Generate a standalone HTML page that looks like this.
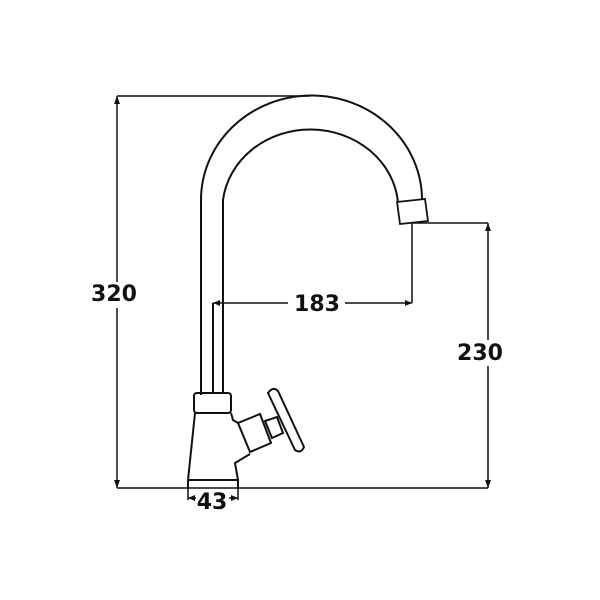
<!DOCTYPE html>
<html><head><style>body{margin:0;background:#fff}svg{display:block}</style></head>
<body>
<svg width="600" height="600" viewBox="0 0 600 600" xmlns="http://www.w3.org/2000/svg" font-family="DejaVu Sans, sans-serif" font-weight="bold">
<g fill="none" stroke="#111" stroke-width="2">
<line x1="117" y1="96" x2="310" y2="96" stroke-width="1.5"/>
<line x1="117" y1="96" x2="117" y2="488" stroke-width="1.5"/>
<line x1="117" y1="488" x2="488" y2="488" stroke-width="1.5"/>
<line x1="412" y1="223" x2="488" y2="223" stroke-width="1.5"/>
<line x1="488" y1="223" x2="488" y2="488" stroke-width="1.5"/>
<line x1="412" y1="223" x2="412" y2="303" stroke-width="1.5"/>
<line x1="213" y1="303" x2="288" y2="303" stroke-width="1.5"/>
<line x1="345" y1="303" x2="412" y2="303" stroke-width="1.5"/>
<line x1="188" y1="498" x2="196" y2="498" stroke-width="1.5"/>
<line x1="229" y1="498" x2="238" y2="498" stroke-width="1.5"/>
<line x1="188" y1="480" x2="188" y2="500" stroke-width="1.5"/>
<line x1="238" y1="480" x2="238" y2="500" stroke-width="1.5"/>
<path d="M201 395 L201 200 A110 104 0 0 1 422 200"/>
<path d="M223 393 L223 200 A88 80 0 0 1 398 202"/>
<line x1="213" y1="303" x2="213" y2="393"/>
<polygon points="397,202 425,199 428,221 400,224" stroke-width="1.8"/>
<rect x="194" y="393" width="37" height="20" rx="3"/>
<path d="M195 413 L188 480 L238 480 L235 463 L250 454"/>
<path d="M231 413 L233 420 L238 423"/>
<line x1="188" y1="480" x2="188" y2="488"/>
<line x1="238" y1="480" x2="238" y2="488"/>
<polygon points="238,423 260,414 271,443 250,452"/>
<polygon points="265,421 277,417 283,433 272,438"/>
<path d="M268 393 Q273 386 278 391 L304 447 Q301 454 295 450 Z"/>
</g>
<g fill="#111">
<polygon points="117,96 114,104 120,104"/>
<polygon points="117,488 114,480 120,480"/>
<polygon points="488,223 485,231 491,231"/>
<polygon points="488,488 485,480 491,480"/>
<polygon points="213,303 220,300 220,306"/>
<polygon points="412,303 405,300 405,306"/>
<polygon points="188,498 195,495 195,501"/>
<polygon points="238,498 231,495 231,501"/>
</g>
<rect x="92" y="282" width="46" height="26" fill="#fff"/>
<rect x="456" y="340" width="48" height="26" fill="#fff"/>
<g font-size="22" fill="#111" text-anchor="middle">
<text x="114" y="301">320</text>
<text x="317" y="311">183</text>
<text x="480" y="360">230</text>
<text x="212" y="509">43</text>
</g>
</svg>
</body></html>
